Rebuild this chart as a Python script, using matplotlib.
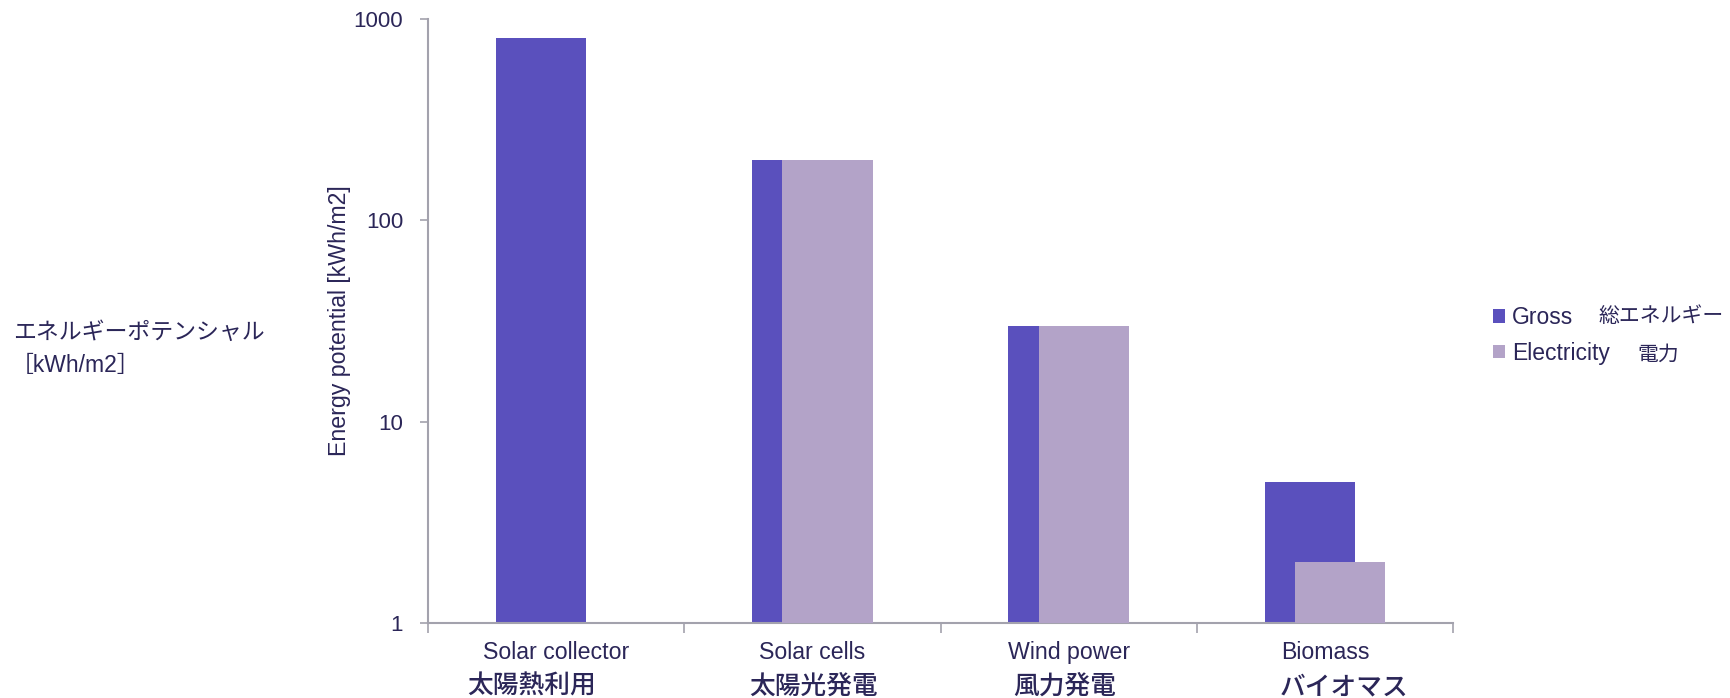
import matplotlib
matplotlib.use("Agg")
import matplotlib.pyplot as plt
import numpy as np

plt.rcParams['font.family'] = ['Liberation Sans', 'Noto Sans CJK JP', 'DejaVu Sans']

categories = ['Solar collector', 'Solar cells', 'Wind power', 'Biomass']
categories_jp = ['太陽熱利用', '太陽光発電', '風力発電', 'バイオマス']
gross = [800, 200, 30, 5]
electricity = [np.nan, 200, 30, 2]
series_names = ['Gross', 'Electricity']
series_names_jp = ['総エネルギー', '電力']
ytick_values = [1, 10, 100, 1000]

# horizontal nudges of the Japanese labels (as in the original slide)
jp_shift = [-0.096, 0.006, -0.016, 0.074]

text_col = '#2b2658'
axis_col = '#a3a2ad'
gross_col = '#5a50bd'
elec_col = '#b3a3c8'

fig = plt.figure(figsize=(17.3, 6.98), dpi=100)
ax = fig.add_axes([0.2474, 0.1075, 0.5925, 0.8653])

x = np.arange(len(categories))
w = 0.352
off = 0.059
ax.bar(x - off, gross, w, color=gross_col, label=series_names[0], zorder=2)
ax.bar(x + off, electricity, w, color=elec_col, label=series_names[1], zorder=3)

ax.set_yscale('log')
ax.set_ylim(1, 1000)
ax.set_xlim(-0.5, len(categories) - 0.5)
ax.set_yticks(ytick_values)
ax.set_yticklabels([str(v) for v in ytick_values])
ax.yaxis.set_minor_locator(matplotlib.ticker.NullLocator())
ax.tick_params(axis='y', which='major', length=6, width=1.2, color=axis_col,
               labelcolor=text_col, labelsize=16, pad=12)

ax.set_xticks(np.arange(len(categories) + 1) - 0.5)
ax.set_xticklabels([])
ax.set_xticks(x, minor=True)
ax.set_xticklabels(categories, minor=True)
ax.tick_params(axis='x', which='major', length=7, width=1.2, color=axis_col)
ax.tick_params(axis='x', which='minor', length=0, labelsize=16.7,
               labelcolor=text_col, pad=13)

for xi, lab, sh in zip(x, categories_jp, jp_shift):
    ax.text(xi + sh, -0.106, lab, transform=ax.get_xaxis_transform(), ha='center',
            va='center', fontsize=18.5, fontweight='medium', color=text_col)

for s in ['top', 'right']:
    ax.spines[s].set_visible(False)
for s in ['left', 'bottom']:
    ax.spines[s].set_color(axis_col)
    ax.spines[s].set_linewidth(1.5)

ax.set_ylabel('Energy potential [kWh/m2]', fontsize=16.7, color=text_col, labelpad=2)

fig.text(0.0075, 0.5244, 'エネルギーポテンシャル', fontsize=16.5, color=text_col, va='center')
fig.text(0.006, 0.477, '［kWh/m2］', fontsize=16.5, color=text_col, va='center')

leg = ax.legend(loc='center left', bbox_to_anchor=(0.863, 0.5193),
                bbox_transform=fig.transFigure, frameon=False, fontsize=16.5,
                handlelength=0.52, handleheight=0.52, handletextpad=0.3,
                borderpad=0, borderaxespad=0, labelspacing=0.55)
for t in leg.get_texts():
    t.set_color(text_col)

fig.text(0.9237, 0.5473, series_names_jp[0], fontsize=15, color=text_col, va='center')
fig.text(0.9462, 0.4914, series_names_jp[1], fontsize=15, color=text_col, va='center')

fig.savefig('out.png', dpi=100)
